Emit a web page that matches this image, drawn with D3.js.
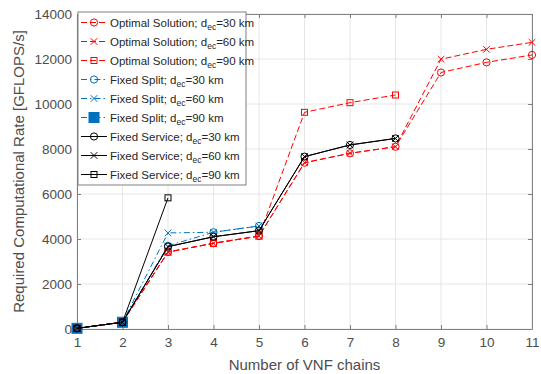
<!DOCTYPE html>
<html>
<head>
<meta charset="utf-8">
<script src="https://cdn.jsdelivr.net/npm/d3@7"></script>
<style>
  body { margin: 0; background: #fff; }
  text { font-family: "Liberation Sans", Arial, sans-serif; }
</style>
</head>
<body>
<div id="chart"></div>
<script>
// values
var chains = [1, 2, 3, 4, 5, 6, 7, 8, 9, 10, 11];
var opt30    = [30, 300, 3420, 3810, 4130, 7390, 7810, 8100, 11400, 11850, 12180];
var opt60    = [30, 300, 3420, 3810, 4130, 7390, 7810, 8100, 11990, 12430, 12740];
var opt90    = [30, 300, 3420, 3810, 4130, 9630, 10060, 10400];
var split30  = [30, 300, 3700, 4300, 4580];
var split60  = [30, 300, 4270, 4300, 4580];
var split90  = [30, 300];
var serv30   = [30, 300, 3660, 4100, 4370, 7660, 8180, 8470];
var serv60   = [30, 300, 3660, 4100, 4370, 7660, 8180, 8470];
var serv90   = [30, 300, 5830];
var yTicks = [0, 2000, 4000, 6000, 8000, 10000, 12000, 14000];

var red = "#ff0000", blue = "#0072bd", black = "#000000";

var series = [
  {name: "Optimal Solution; ", d: "30", vals: opt30, color: red, dash: "6,3", marker: "circle"},
  {name: "Optimal Solution; ", d: "60", vals: opt60, color: red, dash: "6,3", marker: "x"},
  {name: "Optimal Solution; ", d: "90", vals: opt90, color: red, dash: "6,3", marker: "square"},
  {name: "Fixed Split; ", d: "30", vals: split30, color: blue, dash: "6,3,1.5,3", marker: "circle"},
  {name: "Fixed Split; ", d: "60", vals: split60, color: blue, dash: "6,3,1.5,3", marker: "x"},
  {name: "Fixed Split; ", d: "90", vals: split90, color: blue, dash: "6,3,1.5,3", marker: "bigsquare"},
  {name: "Fixed Service; ", d: "30", vals: serv30, color: black, dash: null, marker: "circle"},
  {name: "Fixed Service; ", d: "60", vals: serv60, color: black, dash: null, marker: "x"},
  {name: "Fixed Service; ", d: "90", vals: serv90, color: black, dash: null, marker: "square"}
];

var W = 541, H = 374;
var margin = {top: 14, right: 9, bottom: 45, left: 77};
var width = W - margin.left - margin.right,
    height = H - margin.top - margin.bottom;

var svg = d3.select("#chart").append("svg")
    .attr("width", W)
    .attr("height", H);

var x = d3.scaleLinear().domain([1, 11]).range([0, width]);
var y = d3.scaleLinear().domain([0, 14000]).range([height, 0]);

var g = svg.append("g").attr("transform", "translate(" + margin.left + "," + margin.top + ")");

// grid
g.append("g").selectAll("line").data(chains).enter().append("line")
    .attr("x1", function(d) { return x(d); }).attr("x2", function(d) { return x(d); })
    .attr("y1", 0).attr("y2", height)
    .attr("stroke", "#e6e6e6").attr("stroke-width", 1);
g.append("g").selectAll("line").data(yTicks).enter().append("line")
    .attr("y1", function(d) { return y(d); }).attr("y2", function(d) { return y(d); })
    .attr("x1", 0).attr("x2", width)
    .attr("stroke", "#e6e6e6").attr("stroke-width", 1);

// axes (ticks pointing inwards, MATLAB style)
var axColor = "#808080", txtColor = "#4d4d4d";
var xAxis = g.append("g").attr("transform", "translate(0," + height + ")")
    .call(d3.axisBottom(x).tickValues(chains).tickFormat(d3.format("d")).tickSizeInner(-4).tickSizeOuter(0).tickPadding(8));
var yAxis = g.append("g")
    .call(d3.axisLeft(y).tickValues(yTicks).tickFormat(d3.format("d")).tickSizeInner(-4).tickSizeOuter(0).tickPadding(5));
var xAxisTop = g.append("g")
    .call(d3.axisTop(x).tickValues(chains).tickFormat("").tickSizeInner(-4).tickSizeOuter(0));
var yAxisRight = g.append("g").attr("transform", "translate(" + width + ",0)")
    .call(d3.axisRight(y).tickValues(yTicks).tickFormat("").tickSizeInner(-4).tickSizeOuter(0));
[xAxis, yAxis, xAxisTop, yAxisRight].forEach(function(a) {
  a.selectAll("path, line").attr("stroke", axColor);
  a.selectAll("text").attr("fill", txtColor).style("font-size", "13.5px")
    .style("font-family", "'Liberation Sans', Arial, sans-serif");
});

// lines
var line = d3.line()
    .x(function(d, i) { return x(chains[i]); })
    .y(function(d) { return y(d); });

function drawMarker(sel, type, color, cx, cy) {
  if (type === "circle") {
    sel.append("circle").attr("cx", cx).attr("cy", cy).attr("r", 3.6)
      .attr("fill", "none").attr("stroke", color).attr("stroke-width", 1);
  } else if (type === "x") {
    var s = 3.3;
    sel.append("path")
      .attr("d", "M" + (cx - s) + "," + (cy - s) + "L" + (cx + s) + "," + (cy + s) +
                 "M" + (cx - s) + "," + (cy + s) + "L" + (cx + s) + "," + (cy - s))
      .attr("stroke", color).attr("stroke-width", 1).attr("fill", "none");
  } else if (type === "square") {
    sel.append("rect").attr("x", cx - 3).attr("y", cy - 3).attr("width", 6).attr("height", 6)
      .attr("fill", "none").attr("stroke", color).attr("stroke-width", 1);
  } else if (type === "bigsquare") {
    sel.append("rect").attr("x", cx - 5).attr("y", cy - 5).attr("width", 10).attr("height", 10)
      .attr("fill", color).attr("stroke", color).attr("stroke-width", 1);
  }
}

// draw the big filled squares first so the other series sit on top
var order = [5, 2, 0, 1, 3, 4, 8, 6, 7];
order.forEach(function(k) {
  var s = series[k];
  var sg = g.append("g");
  sg.append("path").datum(s.vals).attr("d", line)
    .attr("fill", "none").attr("stroke", s.color).attr("stroke-width", 1)
    .attr("stroke-dasharray", s.dash);
  s.vals.forEach(function(v, i) {
    drawMarker(sg, s.marker, s.color, x(chains[i]), y(v));
  });
});

// axis titles
svg.append("text")
    .attr("x", margin.left + width / 2).attr("y", H - 4)
    .attr("text-anchor", "middle").attr("fill", txtColor).style("font-size", "15px")
    .text("Number of VNF chains");
svg.append("text")
    .attr("transform", "translate(24," + (margin.top + height / 2) + ") rotate(-90)")
    .attr("text-anchor", "middle").attr("fill", txtColor).style("font-size", "15px")
    .text("Required Computational Rate [GFLOPS/s]");

// legend
var leg = svg.append("g").attr("transform", "translate(78,12)");
leg.append("rect").attr("x", 0).attr("y", 0).attr("width", 168).attr("height", 173)
    .attr("fill", "#fff").attr("stroke", "#808080").attr("stroke-width", 1);
series.forEach(function(s, i) {
  var ly = 10.5 + i * 19;
  var row = leg.append("g");
  row.append("line").attr("x1", 3).attr("x2", 29).attr("y1", ly).attr("y2", ly)
    .attr("stroke", s.color).attr("stroke-width", 1).attr("stroke-dasharray", s.dash);
  drawMarker(row, s.marker, s.color, 16, ly);
  var t = row.append("text").attr("x", 32).attr("y", ly + 4)
    .attr("fill", "#262626").style("font-size", "11.5px");
  t.append("tspan").text(s.name + "d");
  t.append("tspan").attr("dy", 3.5).style("font-size", "8.5px").text("ec");
  t.append("tspan").attr("dy", -3.5).text("=" + s.d + " km");
});
</script>
</body>
</html>
